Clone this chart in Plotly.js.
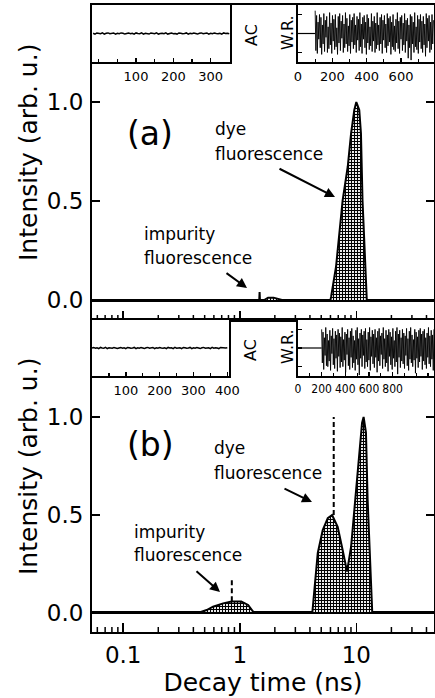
<!DOCTYPE html>
<html><head><meta charset="utf-8">
<script src="https://cdn.plot.ly/plotly-3.0.1.min.js"></script>
<style>html,body{margin:0;padding:0;background:#fff;}#chart{width:435px;height:698px;}</style>
</head><body><div id="chart"></div>
<script>
// ---------- main panels: lifetime distributions ----------
const tauA = [0.05, 1.40, 1.47, 1.48, 1.49, 1.62, 1.75, 1.95, 2.15, 2.3, 6.0, 6.08, 6.7, 7.17, 7.64, 8.44, 9.02, 9.61, 10.0, 10.6, 10.96, 11.3, 11.9, 12.1, 12.3, 50];
const intA = [0, 0, 0, 0.04, 0, 0, 0.012, 0.012, 0.006, 0, 0, 0.017, 0.168, 0.337, 0.505, 0.673, 0.842, 0.96, 1.0, 0.96, 0.842, 0.505, 0.168, 0.017, 0, 0];

const tauB = [0.05, 0.437, 0.52, 0.59, 0.72, 0.85, 1.03, 1.18, 1.3, 1.34, 4.19, 4.38, 4.67, 5.15, 5.69, 6.2, 6.92, 7.64, 8.33, 9.02, 9.94, 10.6, 11.2, 11.55, 12.1, 12.5, 13.1, 13.5, 13.7, 50];
const intB = [0, 0, 0.015, 0.032, 0.049, 0.058, 0.058, 0.041, 0.007, 0, 0, 0.134, 0.306, 0.423, 0.484, 0.5, 0.44, 0.32, 0.211, 0.338, 0.61, 0.83, 0.97, 1.0, 0.92, 0.58, 0.236, 0.015, 0, 0];

// dashed markers in panel (b): [impurity, dye]
const dashTau = [0.855, 6.4];
const dashLow = [0.06, 0.5];
const dashHigh = [0.18, 1.0];

// ---------- insets ----------
const acA_start = -15, acA_step = 5;
const acA = [0.01,-0.02,0.02,0.0,-0.01,0.02,-0.02,0.01,0.02,-0.01,0.0,0.02,-0.02,0.01,-0.01,0.02,0.01,-0.02,0.0,0.02,-0.01,0.01,-0.02,0.02,0.0,-0.01,0.02,-0.02,0.01,0.0,
-0.02,0.02,0.01,-0.01,0.02,-0.02,0.0,0.01,-0.01,0.02,-0.02,0.01,0.02,-0.01,0.0,-0.02,0.02,0.01,-0.01,0.0,0.02,-0.02,0.01,-0.01,0.02,0.0,-0.02,0.01,0.02,-0.01,
0.0,0.02,-0.02,0.01,-0.01,0.02,0.0,-0.01,0.01,-0.02,0.02,0.0,0.01,-0.01];
const acB_start = 0, acB_step = 5;
const acB = [0.0,0.02,-0.01,0.01,-0.02,0.02,0.0,-0.01,0.02,-0.02,0.01,0.0,-0.01,0.02,0.01,-0.02,0.0,0.02,-0.01,0.01,-0.02,0.02,0.01,-0.01,0.0,0.02,-0.02,0.01,-0.01,0.02,
0.0,-0.02,0.01,0.02,-0.01,0.0,0.02,-0.02,0.01,-0.01,0.02,0.0,-0.01,0.01,-0.02,0.02,0.0,0.01,-0.02,0.02,-0.01,0.0,0.01,-0.02,0.02,0.01,-0.01,0.0,0.02,-0.02,
0.01,-0.01,0.02,0.0,-0.02,0.01,0.02,-0.01,0.0,0.01,-0.02,0.02,-0.01,0.01,0.0,-0.02,0.02,0.01,-0.01,0.0,0.01];

const wrA_flatX = [0, 100];
const wrA_start = 100, wrA_step = 4.2;
const wrA = [2.4,-1.8,1.9,-2.1,1.2,-0.6,2.0,-1.5,1.7,-2.2,0.9,-1.1,2.1,-1.9,1.4,-0.4,1.8,-2.0,0.7,-1.6,2.2,-1.2,1.1,-2.1,1.9,-0.8,1.5,-1.7,2.0,-1.4,
0.6,-2.2,1.8,-1.0,2.1,-1.8,1.3,-0.5,1.9,-2.0,1.0,-1.5,2.2,-1.1,1.6,-1.9,0.8,-1.3,2.0,-2.1,1.4,-0.9,1.7,-1.6,2.1,-1.2,0.9,-2.0,1.8,-0.7,
1.5,-1.8,2.2,-1.4,1.0,-2.1,1.7,-0.6,1.9,-1.5,1.2,-2.2,2.0,-1.0,1.6,-1.7,0.7,-1.3,2.1,-1.9,1.3,-0.8,1.8,-2.0,1.1,-1.6,2.2,-1.2,0.9,-1.8,
1.7,-1.1,2.0,-2.1,1.4,-0.7,1.9,-1.5,1.0,-2.0,2.1,-1.3,1.6,-0.9,1.8,-2.2,1.2,-1.4,2.0,-1.7,0.8,-1.9,1.5,-1.0,2.2,-1.6,1.3,-2.1,1.7,-0.6,
1.9,-1.8,1.1,-1.2,2.1,-2.0,1.4,-0.8,1.6,-2.6,0.9,-1.5,2.0,-2.8,1.8,-1.1,1.2,-2.0,2.2,-1.4,0.7,-1.7,1.9,-2.1,1.5,-0.9,2.0,-1.6,1.3,-2.0,
1.8,-1.2,1.0,-2.4,2.1,-1.5,1.6,-0.8,1.9,-2.0,1.2,-1.7,2.0,-1.1,1.4];

const wrB_flatX = [0, 200];
const wrB_start = 200, wrB_step = 5.79;
const wrB = [2.0,-1.6,1.7,-2.3,1.1,-0.8,2.2,-1.9,1.5,-2.0,0.8,-1.4,1.9,-2.4,1.3,-0.6,2.1,-1.8,1.0,-2.2,1.8,-1.1,1.4,-2.5,2.0,-0.9,1.6,-2.1,1.2,-1.5,
2.2,-2.0,0.9,-1.3,1.7,-2.6,1.5,-0.7,2.0,-1.9,1.1,-2.3,1.8,-1.0,2.1,-2.1,1.3,-1.6,0.8,-2.4,1.9,-1.2,2.2,-1.8,1.0,-2.9,1.6,-1.1,2.0,-2.0,
1.4,-0.8,1.8,-2.2,2.1,-1.5,0.9,-2.0,1.7,-1.3,2.2,-2.4,1.2,-0.9,1.9,-1.7,1.5,-2.1,2.0,-1.0,1.1,-2.6,1.8,-1.4,2.1,-1.9,1.3,-0.7,1.6,-2.2,
2.2,-1.2,1.0,-2.0,1.9,-1.6,1.4,-2.5,2.0,-0.9,1.7,-1.8,1.2,-2.3,2.1,-1.1,0.8,-2.0,1.8,-1.5,2.2,-2.8,1.5,-1.0,1.9,-2.1,1.1,-1.4,2.0,-1.7,
1.6,-2.2,1.3,-0.8,2.1,-1.9,1.0,-2.4,1.8,-1.2,2.2,-1.6,1.4,-2.0,0.9,-1.3,2.0,-2.7,1.7,-1.1,1.2,-2.1,1.9,-1.5,2.1,-0.9,1.5,-2.3,1.8,-1.4,
2.0,-1.8,1.1,-2.2,1.6,-1.0,2.2,-1.7,1.3,-2.0,1.9,-1.2,1.4,-2.4,2.0];

const majorTau = [0.1, 1, 10];
const majorTauText = ['0.1', '1', '10'];
const minorTau = [0.06,0.07,0.08,0.09,0.2,0.3,0.4,0.5,0.6,0.7,0.8,0.9,2,3,4,5,6,7,8,9,20,30,40];

// ---------- geometry helpers (pixel -> paper) ----------
const PL = 92, PR = 434, PT = 5, PB = 632;
const fx = p => (p - PL) / (PR - PL);
const fy = p => (PB - p) / (PB - PT);
const seq = (start, step, n) => Array.from({length: n}, (_, i) => start + i * step);

const FONT = 'DejaVu Sans';
const pattern = {shape: '+', fgcolor: '#000', bgcolor: '#fff', size: 3, solidity: 0.62};
const TAU_RANGE = [Math.log10(0.054), Math.log10(46.4)];

const traces = [
  {x: tauA, y: intA, xaxis: 'x', yaxis: 'y', mode: 'lines', line: {color: '#000', width: 2},
   fill: 'tozeroy', fillcolor: 'rgba(0,0,0,0)', fillpattern: pattern, hoverinfo: 'skip'},
  {x: tauB, y: intB, xaxis: 'x2', yaxis: 'y2', mode: 'lines', line: {color: '#000', width: 2},
   fill: 'tozeroy', fillcolor: 'rgba(0,0,0,0)', fillpattern: pattern, hoverinfo: 'skip'},
];
for (let i = 0; i < dashTau.length; i++) {
  traces.push({x: [dashTau[i], dashTau[i]], y: [dashLow[i], dashHigh[i]], xaxis: 'x2', yaxis: 'y2',
    mode: 'lines', line: {color: '#000', width: 2, dash: '5px,3px'}});
}
// insets
traces.push({x: seq(acA_start, acA_step, acA.length), y: acA, xaxis: 'x3', yaxis: 'y3', mode: 'lines', line: {color: '#000', width: 1.5}});
traces.push({x: wrA_flatX, y: [0, 0], xaxis: 'x4', yaxis: 'y4', mode: 'lines', line: {color: '#000', width: 1.2}});
traces.push({x: seq(wrA_start, wrA_step, wrA.length), y: wrA, xaxis: 'x4', yaxis: 'y4', mode: 'lines', line: {color: '#000', width: 0.9}});
traces.push({x: seq(acB_start, acB_step, acB.length), y: acB, xaxis: 'x5', yaxis: 'y5', mode: 'lines', line: {color: '#000', width: 1.5}});
traces.push({x: wrB_flatX, y: [0, 0], xaxis: 'x6', yaxis: 'y6', mode: 'lines', line: {color: '#000', width: 1.2}});
traces.push({x: seq(wrB_start, wrB_step, wrB.length), y: wrB, xaxis: 'x6', yaxis: 'y6', mode: 'lines', line: {color: '#000', width: 0.9}});

const mainX = (domain, anchor, labels) => ({
  type: 'log', domain: domain, anchor: anchor, range: TAU_RANGE,
  showline: true, linewidth: 2, linecolor: '#000', mirror: true, showgrid: false, zeroline: false,
  ticks: 'inside', ticklen: 9, tickwidth: 1.5, tickcolor: '#000',
  tickmode: 'array', tickvals: majorTau, ticktext: majorTauText, showticklabels: labels,
  tickfont: {family: FONT, size: 23, color: '#000'}, ticklabelstandoff: 1
});
const mainY = (domain, anchor, range) => ({
  domain: domain, anchor: anchor, range: range,
  showline: true, linewidth: 2, linecolor: '#000', mirror: 'ticks', showgrid: false,
  zeroline: true, zerolinewidth: 3, zerolinecolor: '#000',
  ticks: 'inside', ticklen: 8, tickwidth: 1.5, tickcolor: '#000',
  tickmode: 'array', tickvals: [0, 0.5, 1.0], ticktext: ['0.0', '0.5', '1.0'],
  tickfont: {family: FONT, size: 23, color: '#000'}, ticklabelstandoff: 2
});
const insetX = (domain, anchor, range, tickvals, minorD, size, fam) => ({
  domain: domain, anchor: anchor, range: range, showline: true, linewidth: 2, linecolor: '#000', mirror: true,
  showgrid: false, zeroline: false, ticks: 'inside', ticklen: 4, tickwidth: 1.5, tickcolor: '#000',
  tickmode: 'array', tickvals: tickvals, ticktext: tickvals.map(String), tickangle: 0,
  minor: {dtick: minorD, ticks: 'inside', ticklen: 3, tickwidth: 1.2, tickcolor: '#000', showgrid: false},
  tickfont: {family: fam, size: size, color: '#000'}, ticklabelstandoff: 1
});
const insetY = (domain, anchor, range, ticked) => ({
  domain: domain, anchor: anchor, range: range, showline: true, linewidth: 2, linecolor: '#000', mirror: true,
  showgrid: false, zeroline: false, showticklabels: false,
  ticks: ticked ? 'inside' : '', ticklen: 4, tickwidth: 1.5, tickcolor: '#000',
  tickmode: 'array', tickvals: ticked ? [-2, 0, 2] : []
});

// minor ticks of the log time axes, placed through the axis scale
const shapes = [];
const yMidA = fy(320);
const minorLen = [5 / 315, 5 / 312];
[['x', 'y domain'], ['x2', 'y2 domain']].forEach((refs, k) => {
  minorTau.forEach(v => shapes.push({type: 'line', xref: refs[0], yref: refs[1], x0: v, x1: v, y0: 0, y1: minorLen[k],
    line: {color: '#000', width: 1.5}}));
});

const ann = [];
const txt = (text, px, py, size, anchor) => ann.push({text: text, xref: 'paper', yref: 'paper', x: fx(px), y: fy(py),
  xanchor: anchor || 'left', yanchor: 'middle', showarrow: false, font: {family: FONT, size: size, color: '#000'}});
const arrow = (tx, ty, hx, hy) => ann.push({text: '', xref: 'paper', yref: 'paper', x: fx(hx), y: fy(hy),
  ax: tx - hx, ay: ty - hy, axref: 'pixel', ayref: 'pixel', showarrow: true, arrowhead: 2, arrowsize: 1, arrowwidth: 2, arrowcolor: '#000'});
const rot = (text, px, py, size) => ann.push({text: text, xref: 'paper', yref: 'paper', x: fx(px), y: fy(py),
  xanchor: 'center', yanchor: 'middle', textangle: -90, showarrow: false, font: {family: FONT, size: size, color: '#000'}});

txt('(a)', 150, 134, 33, 'center');
txt('(b)', 150, 444, 33, 'center');
txt('dye', 213, 129, 17); txt('fluorescence', 213, 154, 17);
txt('impurity', 142, 234, 17); txt('fluorescence', 142, 258, 17);
txt('dye', 212, 448, 17); txt('fluorescence', 212, 473, 17);
txt('impurity', 132, 532, 17); txt('fluorescence', 132, 555, 17);
arrow(278, 168, 335, 197);
arrow(225, 272, 247, 288);
arrow(283, 488, 312, 502);
arrow(195, 570, 220, 592);
rot('Intensity (arb. u.)', 28, 153, 25);
rot('Intensity (arb. u.)', 28, 467, 25);
rot('AC', 251, 35, 16); rot('W.R.', 287, 33, 16);
rot('AC', 250, 350, 16); rot('W.R.', 287, 347, 16);

const layout = {
  width: 435, height: 698, margin: {l: PL, r: 435 - PR, t: PT, b: 698 - PB},
  paper_bgcolor: '#fff', plot_bgcolor: '#fff', showlegend: false,
  xaxis: mainX([0, 1], 'y', false),
  yaxis: mainY([yMidA, 1], 'x', [-0.101, 1.49]),
  xaxis2: Object.assign(mainX([0, 1], 'y2', true), {title: {text: 'Decay time (ns)', font: {family: FONT, size: 25, color: '#000'}, standoff: 4}}),
  yaxis2: mainY([0, yMidA], 'x2', [-0.097, 1.495]),
  xaxis3: insetX([0, fx(230)], 'y3', [-18, 352], [100, 200, 300], 50, 13, FONT),
  yaxis3: insetY([fy(62), 1], 'x3', [-1, 1], false),
  xaxis4: insetX([fx(298), 1], 'y4', [0, 792], [0, 200, 400, 600], 100, 13, FONT),
  yaxis4: insetY([fy(62), 1], 'x4', [-3, 3], true),
  xaxis5: insetX([0, fx(229)], 'y5', [0, 405], [100, 200, 300, 400], 50, 13, FONT),
  yaxis5: insetY([fy(376), yMidA], 'x5', [-1, 1], false),
  xaxis6: insetX([fx(298), 1], 'y6', [0, 1150], [0, 200, 400, 600, 800], 100, 12, 'DejaVu Sans Condensed'),
  yaxis6: insetY([fy(376), yMidA], 'x6', [-3, 3], true),
  shapes: shapes,
  annotations: ann
};
Plotly.newPlot('chart', traces, layout, {staticPlot: true, displayModeBar: false});
</script></body></html>
